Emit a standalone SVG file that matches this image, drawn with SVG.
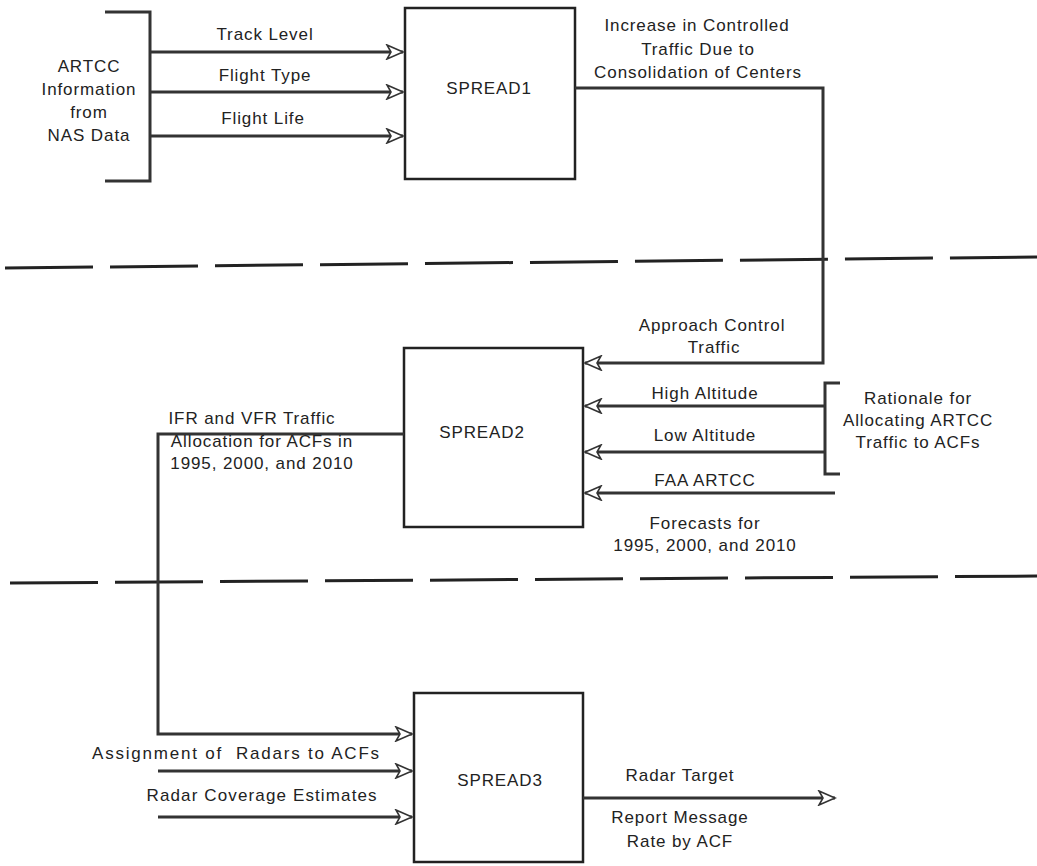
<svg xmlns="http://www.w3.org/2000/svg" width="1037" height="866" viewBox="0 0 1037 866">
<style>
.box{fill:none;stroke:#222;stroke-width:2.5}
.ln{fill:none;stroke:#333;stroke-width:3}
.dash{fill:none;stroke:#222;stroke-width:3;stroke-dasharray:88 17}
text{font-family:"Liberation Sans",Arial,sans-serif;font-size:17px;letter-spacing:0.9px;fill:#222;text-anchor:middle}
</style>
<defs>
<marker id="ah" markerWidth="20" markerHeight="16" refX="18" refY="8" orient="auto" markerUnits="userSpaceOnUse">
<path d="M2,1 L18,8 L2,15 L6,8 Z" fill="#fff" stroke="#333" stroke-width="1.6"/>
</marker>
</defs>
<rect width="1037" height="866" fill="#fff"/>
<g id="dividers">
<line class="dash" x1="5" y1="268" x2="1037" y2="257"/>
<line class="dash" x1="10" y1="583" x2="1037" y2="576"/>
</g>
<g id="artcc-source">
<path class="ln" d="M105,12 H150 V181 H105"/>
<text x="89" y="72">ARTCC</text>
<text x="89" y="95">Information</text>
<text x="89" y="118">from</text>
<text x="89" y="141">NAS Data</text>
</g>
<g id="spread1">
<rect class="box" x="405" y="8" width="170" height="171"/>
<text x="489" y="94">SPREAD1</text>
</g>
<g id="spread2">
<rect class="box" x="404" y="348" width="179" height="179"/>
<text x="482" y="438">SPREAD2</text>
</g>
<g id="spread3">
<rect class="box" x="414" y="693" width="169" height="169"/>
<text x="500" y="786">SPREAD3</text>
</g>
<g id="rationale">
<path class="ln" d="M840,383 H825 V474 H840"/>
<text x="918" y="404">Rationale for</text>
<text x="918" y="426">Allocating ARTCC</text>
<text x="918" y="448">Traffic to ACFs</text>
</g>
<g id="connectors">
<line class="ln" x1="150" y1="52" x2="403" y2="52" marker-end="url(#ah)"/>
<line class="ln" x1="150" y1="92" x2="403" y2="92" marker-end="url(#ah)"/>
<line class="ln" x1="150" y1="136" x2="403" y2="136" marker-end="url(#ah)"/>
<path class="ln" d="M575,88 H823 V363 H585" marker-end="url(#ah)"/>
<line class="ln" x1="825" y1="406" x2="585" y2="406" marker-end="url(#ah)"/>
<line class="ln" x1="825" y1="452" x2="585" y2="452" marker-end="url(#ah)"/>
<line class="ln" x1="835" y1="493" x2="585" y2="493" marker-end="url(#ah)"/>
<path class="ln" d="M404,434 H158 V734 H412" marker-end="url(#ah)"/>
<line class="ln" x1="158" y1="771" x2="412" y2="771" marker-end="url(#ah)"/>
<line class="ln" x1="158" y1="817" x2="412" y2="817" marker-end="url(#ah)"/>
<line class="ln" x1="583" y1="798" x2="835" y2="798" marker-end="url(#ah)"/>
</g>
<g id="labels">
<text x="265" y="40">Track Level</text>
<text x="265" y="81">Flight Type</text>
<text x="263" y="124">Flight Life</text>
<text x="697" y="31">Increase in Controlled</text>
<text x="698" y="55">Traffic Due to</text>
<text x="698" y="78">Consolidation of Centers</text>
<text x="712" y="331">Approach Control</text>
<text x="714" y="353">Traffic</text>
<text x="705" y="399">High Altitude</text>
<text x="705" y="441">Low Altitude</text>
<text x="705" y="486">FAA ARTCC</text>
<text x="705" y="529">Forecasts for</text>
<text x="705" y="551">1995, 2000, and 2010</text>
<text x="252" y="424">IFR and VFR Traffic</text>
<text x="262" y="447">Allocation for ACFs in</text>
<text x="262" y="469">1995, 2000, and 2010</text>
<text x="236" y="759" xml:space="preserve" textLength="288" lengthAdjust="spacing">Assignment of  Radars to ACFs</text>
<text x="262" y="801" textLength="231" lengthAdjust="spacing">Radar Coverage Estimates</text>
<text x="680" y="781">Radar Target</text>
<text x="680" y="823">Report Message</text>
<text x="680" y="847">Rate by ACF</text>
</g>
</svg>
